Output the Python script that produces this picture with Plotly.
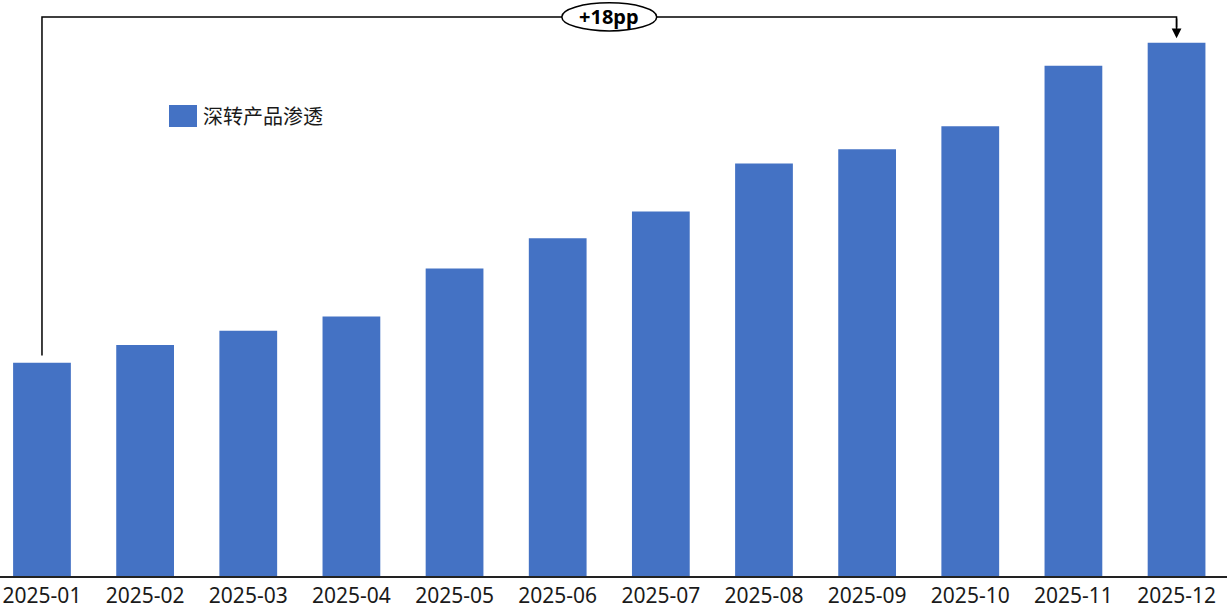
import plotly.graph_objects as go

months = ["2025-01", "2025-02", "2025-03", "2025-04", "2025-05", "2025-06",
          "2025-07", "2025-08", "2025-09", "2025-10", "2025-11", "2025-12"]
penetration = [12.0, 13.0, 13.8, 14.6, 17.3, 19.0, 20.5, 23.2, 24.0, 25.3, 28.7, 30.0]
series_name = "深转产品渗透"
change_label = "+18pp"

BLUE = "#4472C4"

fig = go.Figure()
fig.add_trace(go.Bar(x=months, y=penetration, name=series_name,
                     marker=dict(color=BLUE, line=dict(width=0)),
                     showlegend=False))

first_i, last_i = 0, len(months) - 1
top_y = max(penetration) + 1.45
start_y = penetration[first_i] + 0.4
tip_y = penetration[last_i] + 0.25

# bracket: up from first bar, across, down to last bar
fig.add_shape(type="path",
              path=f"M {first_i} {start_y} L {first_i} {top_y} L {last_i} {top_y} L {last_i} {tip_y + 0.6}",
              xref="x", yref="y", line=dict(color="black", width=1.5))
fig.add_annotation(x=last_i, y=tip_y, ax=last_i, ay=top_y, xref="x", yref="y",
                   axref="x", ayref="y", text="", showarrow=True,
                   arrowhead=2, arrowsize=1.3, arrowwidth=1.5, arrowcolor="black")
mid = (first_i + last_i) / 2
fig.add_shape(type="circle", xref="x", yref="y",
              x0=mid - 0.46, x1=mid + 0.46, y0=top_y - 0.79, y1=top_y + 0.79,
              fillcolor="white", line=dict(color="black", width=1.5), layer="above")
fig.add_annotation(x=mid, y=top_y, xref="x", yref="y", text=f"<b>{change_label}</b>",
                   showarrow=False, font=dict(size=20, color="black", family="Noto Sans"))

# legend (manual)
fig.add_shape(type="rect", xref="paper", yref="paper",
              x0=169 / 1227, x1=197 / 1227, y0=1 - 127 / 576, y1=1 - 105 / 576,
              fillcolor=BLUE, line=dict(width=0))
fig.add_annotation(x=201 / 1227, y=1 - 116 / 576, xref="paper", yref="paper",
                   xanchor="left", yanchor="middle", text=series_name, showarrow=False,
                   font=dict(size=20, color="#1a1a1a", family="Noto Sans CJK SC"))

fig.update_layout(
    width=1227, height=610,
    margin=dict(l=0, r=0, t=0, b=34),
    paper_bgcolor="white", plot_bgcolor="white",
    bargap=0.44,
    xaxis=dict(type="category", range=[-0.407, 11.489], showline=True,
               linecolor="#222", linewidth=1.5, showgrid=False, ticks="",
               ticklabelstandoff=0,
               tickfont=dict(size=21, color="#1a1a1a", family="Noto Sans")),
    yaxis=dict(range=[0, 32.4], visible=False, showgrid=False),
)

fig.write_html("out.html")
